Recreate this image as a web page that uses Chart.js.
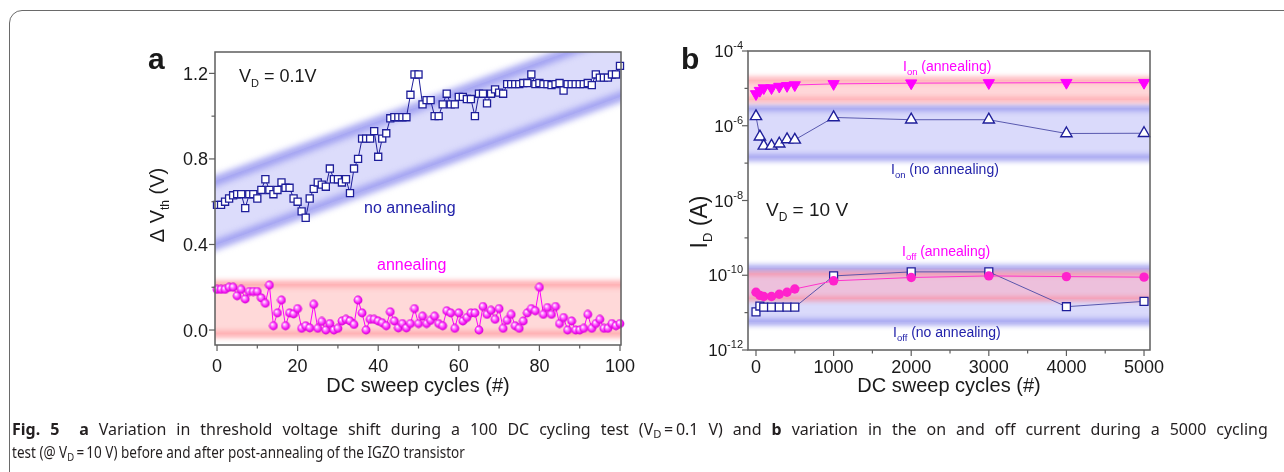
<!DOCTYPE html>
<html><head><meta charset="utf-8">
<script src="https://cdn.jsdelivr.net/npm/chart.js@4.4.0/dist/chart.umd.min.js"></script>
<style>
html,body{margin:0;padding:0;background:#fff;}
body{width:1284px;height:472px;position:relative;overflow:hidden;}
canvas{position:absolute;left:0;top:0;}
#frame{position:absolute;left:9px;top:10px;width:1320px;height:500px;border:1.5px solid #6a6a6a;border-radius:13px;box-sizing:border-box;}
.cap{position:absolute;left:12px;font-family:'Noto Sans','Liberation Sans',sans-serif;font-size:16px;color:#231f20;white-space:nowrap;transform-origin:0 0;line-height:18px;}
.cap sub{font-size:0.7em;vertical-align:-0.3em;line-height:0;}
</style></head>
<body>
<div id="frame"></div>
<canvas id="ca" width="1284" height="472"></canvas>
<canvas id="cb" width="1284" height="472"></canvas>
<div class="cap" id="cap1" style="top:420px"><b>Fig. 5</b>&nbsp; <b>a</b> Variation in threshold voltage shift during a 100 DC cycling test (V<sub>D</sub>&thinsp;=&thinsp;0.1 V) and <b>b</b> variation in the on and off current during a 5000 cycling</div>
<div class="cap" id="cap2" style="top:443px">test (@ V<sub>D</sub>&thinsp;=&thinsp;10 V) before and after post-annealing of the IGZO transistor</div>
<script>
// ---------- Panel a data ----------
const cyclesA = [0,1,2,3,4,5,6,7,8,9,10,11,12,13,14,15,16,17,18,19,20,21,22,23,24,25,26,27,28,29,30,31,32,33,34,35,36,37,38,39,40,41,42,43,44,45,46,47,48,49,50,51,52,53,54,55,56,57,58,59,60,61,62,63,64,65,66,67,68,69,70,71,72,73,74,75,76,77,78,79,80,81,82,83,84,85,86,87,88,89,90,91,92,93,94,95,96,97,98,99,100];
const dvthNoAnneal = [0.585,0.585,0.60,0.615,0.63,0.635,0.635,0.57,0.635,0.635,0.615,0.655,0.705,0.655,0.635,0.655,0.69,0.665,0.665,0.615,0.60,0.555,0.525,0.615,0.66,0.69,0.68,0.67,0.755,0.705,0.705,0.69,0.705,0.64,0.755,0.80,0.895,0.895,0.895,0.93,0.81,0.895,0.92,0.99,0.995,0.995,0.995,0.995,1.10,1.195,1.195,1.055,1.075,1.075,1.0,1.0,1.055,1.105,1.055,1.055,1.09,1.09,1.08,1.08,1.0,1.105,1.105,1.06,1.105,1.125,1.11,1.105,1.15,1.15,1.15,1.15,1.155,1.155,1.195,1.15,1.155,1.15,1.15,1.145,1.15,1.155,1.12,1.15,1.15,1.15,1.15,1.15,1.155,1.145,1.195,1.18,1.18,1.18,1.195,1.195,1.235];
const dvthAnneal = [0.19,0.19,0.19,0.20,0.20,0.16,0.19,0.145,0.18,0.18,0.18,0.15,0.125,0.21,0.02,0.08,0.14,0.02,0.08,0.075,0.10,0.008,0.02,0.01,0.12,0.008,0.04,0.0,0.03,0.0,0.008,0.042,0.05,0.042,0.026,0.14,0.08,0.0,0.05,0.05,0.042,0.034,0.02,0.085,0.042,0.01,0.03,0.01,0.03,0.10,0.03,0.065,0.03,0.045,0.065,0.03,0.02,0.09,0.08,0.008,0.08,0.042,0.058,0.08,0.08,0.0,0.11,0.073,0.092,0.05,0.10,0.008,0.045,0.073,0.02,0.008,0.042,0.08,0.10,0.09,0.20,0.073,0.105,0.073,0.11,0.03,0.058,0.0,0.042,0.0,0.0,0.008,0.073,0.008,0.03,0.05,0.008,0.008,0.03,0.02,0.03];
const bandBlueAX = [0, 100];
const bandBlueAUpper = [0.70, 1.39];
const bandBlueALower = [0.40, 1.09];
const bandPinkA = [0.215, -0.02];
const yTicksA = [0, 0.4, 0.8, 1.2];
const yTickLabelsA = ['0.0', '0.4', '0.8', '1.2'];
const yMinorA = [0.2, 0.6, 1.0];
const xTicksA = [0, 20, 40, 60, 80, 100];
const xMinorA = [10, 30, 50, 70, 90];

// ---------- Panel b data ----------
const cyclesB = [0, 50, 100, 200, 300, 400, 500, 1000, 2000, 3000, 4000, 5000];
const ionAnneal = [7.1e-6, 8.7e-6, 1.02e-5, 1.02e-5, 1.12e-5, 1.17e-5, 1.23e-5, 1.32e-5, 1.38e-5, 1.40e-5, 1.42e-5, 1.42e-5];
const ionNoAnneal = [1.78e-6, 5.1e-7, 2.9e-7, 2.9e-7, 3.3e-7, 4.3e-7, 4.2e-7, 1.67e-6, 1.45e-6, 1.45e-6, 6.2e-7, 6.3e-7];
const ioffAnneal = [3.5e-11, 2.9e-11, 2.7e-11, 2.7e-11, 3.1e-11, 3.5e-11, 4.3e-11, 7.1e-11, 8.7e-11, 9.6e-11, 9.2e-11, 8.9e-11];
const ioffNoAnneal = [1.05e-11, 1.5e-11, 1.4e-11, 1.4e-11, 1.4e-11, 1.4e-11, 1.4e-11, 9.6e-11, 1.23e-10, 1.23e-10, 1.44e-11, 2.0e-11];
const bandIonAnneal = [1.7e-5, 4.9e-6];
const bandIonNo = [3.0e-6, 1.4e-7];
const bandIoffNo = [1.55e-10, 5.6e-12];
const bandIoffAnneal = [1.13e-10, 2.3e-11];
const yTicksB = [1e-12, 1e-10, 1e-8, 1e-6, 1e-4];
const yTickExpB = ['-12', '-10', '-8', '-6', '-4'];
const yMinorB = [1e-11, 1e-9, 1e-7, 1e-5];
const xTicksB = [0, 1000, 2000, 3000, 4000, 5000];
const xMinorB = [500, 1500, 2500, 3500, 4500];

const NAVY = '#1e1e9a';
const MAG = '#ff00ff';
const FONT = "'Liberation Sans', Arial, sans-serif";

// ball marker
const ball = document.createElement('canvas');
ball.width = 10; ball.height = 10;
(function(){
  const g = ball.getContext('2d');
  const gr = g.createRadialGradient(3.6, 3.4, 0.3, 5, 5, 4.6);
  gr.addColorStop(0, '#ffffff');
  gr.addColorStop(0.3, '#ff8cff');
  gr.addColorStop(0.7, '#f414f4');
  gr.addColorStop(1, '#c800c8');
  g.fillStyle = gr; g.beginPath(); g.arc(5, 5, 4.4, 0, Math.PI * 2); g.fill();
})();

function rich(ctx, parts, x, y, align) {
  let w = 0;
  parts.forEach(p => { ctx.font = (p.b ? 'bold ' : '') + p.s + 'px ' + FONT; p.w = ctx.measureText(p.t).width; w += p.w; });
  let cx = align === 'center' ? x - w / 2 : (align === 'right' ? x - w : x);
  ctx.textAlign = 'left'; ctx.textBaseline = 'alphabetic';
  parts.forEach(p => { ctx.font = (p.b ? 'bold ' : '') + p.s + 'px ' + FONT; ctx.fillText(p.t, cx, y + (p.dy || 0)); cx += p.w; });
}
function line(ctx, x1, y1, x2, y2) { ctx.beginPath(); ctx.moveTo(x1, y1); ctx.lineTo(x2, y2); ctx.stroke(); }
function clipArea(ctx, ca) { ctx.beginPath(); ctx.rect(ca.left, ca.top, ca.right - ca.left, ca.bottom - ca.top); ctx.clip(); }
function hBand(ctx, ca, y1, y2, fill, edge, ew, blur) {
  ctx.fillStyle = fill; ctx.fillRect(ca.left, y1, ca.right - ca.left, y2 - y1);
  ctx.filter = 'blur(' + blur + 'px)'; ctx.strokeStyle = edge; ctx.lineWidth = ew;
  line(ctx, ca.left - 20, y1, ca.right + 20, y1); line(ctx, ca.left - 20, y2, ca.right + 20, y2);
  ctx.filter = 'none';
}

const bandsA = { id: 'bandsA', beforeDatasetsDraw(chart) {
  const { ctx, chartArea: ca, scales: { x, y } } = chart;
  ctx.save(); clipArea(ctx, ca);
  hBand(ctx, ca, y.getPixelForValue(bandPinkA[0]), y.getPixelForValue(bandPinkA[1]), '#ffd9d9', 'rgba(255,165,170,0.9)', 7, 2.5);
  const x0 = x.getPixelForValue(bandBlueAX[0]), x1 = x.getPixelForValue(bandBlueAX[1]);
  const u0 = y.getPixelForValue(bandBlueAUpper[0]), u1 = y.getPixelForValue(bandBlueAUpper[1]);
  const l0 = y.getPixelForValue(bandBlueALower[0]), l1 = y.getPixelForValue(bandBlueALower[1]);
  const ext = (a, b, t) => a + (b - a) * t;
  const tL = (ca.left - 30 - x0) / (x1 - x0), tR = (ca.right + 30 - x0) / (x1 - x0);
  ctx.fillStyle = '#dcdcfb';
  ctx.beginPath();
  ctx.moveTo(ca.left - 30, ext(u0, u1, tL)); ctx.lineTo(ca.right + 30, ext(u0, u1, tR));
  ctx.lineTo(ca.right + 30, ext(l0, l1, tR)); ctx.lineTo(ca.left - 30, ext(l0, l1, tL)); ctx.closePath(); ctx.fill();
  ctx.filter = 'blur(3px)'; ctx.strokeStyle = 'rgba(150,150,240,0.85)'; ctx.lineWidth = 10;
  line(ctx, ca.left - 30, ext(u0, u1, tL), ca.right + 30, ext(u0, u1, tR));
  line(ctx, ca.left - 30, ext(l0, l1, tL), ca.right + 30, ext(l0, l1, tR));
  ctx.filter = 'none';
  ctx.restore();
}};

const decoA = { id: 'decoA', afterDraw(chart) {
  const { ctx, chartArea: ca, scales: { x, y } } = chart;
  ctx.save();
  ctx.strokeStyle = '#5e5e5e'; ctx.lineWidth = 1.5;
  ctx.strokeRect(ca.left, ca.top, ca.right - ca.left, ca.bottom - ca.top);
  ctx.lineWidth = 1.2;
  xTicksA.forEach(v => { const p = x.getPixelForValue(v); line(ctx, p, ca.bottom, p, ca.bottom + 6); });
  xMinorA.forEach(v => { const p = x.getPixelForValue(v); line(ctx, p, ca.bottom, p, ca.bottom + 3.5); });
  yTicksA.forEach(v => { const p = y.getPixelForValue(v); line(ctx, ca.left - 6, p, ca.left, p); });
  yMinorA.forEach(v => { const p = y.getPixelForValue(v); line(ctx, ca.left - 3.5, p, ca.left, p); });
  ctx.fillStyle = '#1a1a1a';
  ctx.font = '18px ' + FONT; ctx.textBaseline = 'alphabetic';
  ctx.textAlign = 'center';
  xTicksA.forEach(v => ctx.fillText(String(v), x.getPixelForValue(v), ca.bottom + 27));
  ctx.textAlign = 'right';
  yTicksA.forEach((v, i) => ctx.fillText(yTickLabelsA[i], ca.left - 7, y.getPixelForValue(v) + 6.5));
  ctx.font = '20px ' + FONT; ctx.textAlign = 'center';
  ctx.fillText('DC sweep cycles (#)', (ca.left + ca.right) / 2, 392);
  ctx.save(); ctx.translate(164, 205); ctx.rotate(-Math.PI / 2);
  rich(ctx, [{ t: '\u0394 V', s: 20 }, { t: 'th', s: 12, dy: 5 }, { t: ' (V)', s: 20 }], 0, 0, 'center');
  ctx.restore();
  rich(ctx, [{ t: 'a', s: 30, b: true }], 148, 69, 'left');
  rich(ctx, [{ t: 'V', s: 18 }, { t: 'D', s: 11, dy: 5 }, { t: ' = 0.1V', s: 18 }], 239, 82, 'left');
  ctx.fillStyle = '#2222aa';
  rich(ctx, [{ t: 'no annealing', s: 16 }], 364, 213, 'left');
  ctx.fillStyle = MAG;
  rich(ctx, [{ t: 'annealing', s: 16 }], 377, 270, 'left');
  ctx.restore();
}};

const bandsB = { id: 'bandsB', beforeDatasetsDraw(chart) {
  const { ctx, chartArea: ca, scales: { y } } = chart;
  ctx.save(); clipArea(ctx, ca);
  const P = v => y.getPixelForValue(v);
  hBand(ctx, ca, P(bandIonNo[0]), P(bandIonNo[1]), '#dadafb', 'rgba(160,160,240,0.9)', 7, 2.5);
  hBand(ctx, ca, P(bandIonAnneal[0]), P(bandIonAnneal[1]), '#ffd7d9', 'rgba(255,170,175,0.9)', 6, 2.5);
  hBand(ctx, ca, P(bandIoffNo[0]), P(bandIoffNo[1]), '#dadafb', 'rgba(160,160,240,0.9)', 7, 2.5);
  hBand(ctx, ca, P(bandIoffAnneal[0]), P(bandIoffAnneal[1]), 'rgba(255,165,190,0.5)', 'rgba(250,140,160,0.75)', 5, 2);
  ctx.restore();
}};

const decoB = { id: 'decoB', afterDraw(chart) {
  const { ctx, chartArea: ca, scales: { x, y } } = chart;
  ctx.save();
  ctx.strokeStyle = '#5e5e5e'; ctx.lineWidth = 1.5;
  ctx.strokeRect(ca.left, ca.top, ca.right - ca.left, ca.bottom - ca.top);
  ctx.lineWidth = 1.2;
  xTicksB.forEach(v => { const p = x.getPixelForValue(v); line(ctx, p, ca.bottom, p, ca.bottom + 6); });
  xMinorB.forEach(v => { const p = x.getPixelForValue(v); line(ctx, p, ca.bottom, p, ca.bottom + 3.5); });
  yTicksB.forEach(v => { const p = y.getPixelForValue(v); line(ctx, ca.left - 6, p, ca.left, p); });
  yMinorB.forEach(v => { const p = y.getPixelForValue(v); line(ctx, ca.left - 3.5, p, ca.left, p); });
  ctx.fillStyle = '#1a1a1a';
  ctx.font = '18px ' + FONT; ctx.textBaseline = 'alphabetic'; ctx.textAlign = 'center';
  xTicksB.forEach(v => ctx.fillText(String(v), x.getPixelForValue(v), ca.bottom + 23));
  yTicksB.forEach((v, i) => {
    const p = y.getPixelForValue(v);
    ctx.font = '11px ' + FONT; const we = ctx.measureText(yTickExpB[i]).width;
    ctx.textAlign = 'left'; ctx.fillText(yTickExpB[i], ca.left - 5 - we, p - 2);
    ctx.font = '17px ' + FONT; ctx.textAlign = 'right'; ctx.fillText('10', ca.left - 5 - we, p + 6);
  });
  ctx.font = '20px ' + FONT; ctx.textAlign = 'center';
  ctx.fillText('DC sweep cycles (#)', (ca.left + ca.right) / 2, 392);
  ctx.save(); ctx.translate(707, 222); ctx.rotate(-Math.PI / 2);
  rich(ctx, [{ t: 'I', s: 23 }, { t: 'D', s: 13, dy: 5 }, { t: ' (A)', s: 23 }], 0, 0, 'center');
  ctx.restore();
  rich(ctx, [{ t: 'b', s: 30, b: true }], 681, 69, 'left');
  rich(ctx, [{ t: 'V', s: 19 }, { t: 'D', s: 12, dy: 5 }, { t: ' = 10 V', s: 19 }], 766, 216, 'left');
  ctx.fillStyle = MAG;
  rich(ctx, [{ t: 'I', s: 14 }, { t: 'on', s: 9.5, dy: 4 }, { t: ' (annealing)', s: 14 }], 903, 71, 'left');
  rich(ctx, [{ t: 'I', s: 14 }, { t: 'off', s: 9.5, dy: 4 }, { t: ' (annealing)', s: 14 }], 902, 256, 'left');
  ctx.fillStyle = '#2222aa';
  rich(ctx, [{ t: 'I', s: 14 }, { t: 'on', s: 9.5, dy: 4 }, { t: ' (no annealing)', s: 14 }], 891, 174, 'left');
  rich(ctx, [{ t: 'I', s: 14 }, { t: 'off', s: 9.5, dy: 4 }, { t: ' (no annealing)', s: 14 }], 893, 337, 'left');
  ctx.restore();
}};

const commonOpts = (pad) => ({
  responsive: false, animation: false, devicePixelRatio: 1, events: [],
  layout: { padding: pad },
  plugins: { legend: { display: false }, tooltip: { enabled: false } }
});

const optsA = commonOpts({ left: 215, top: 52, right: 1284 - 621, bottom: 472 - 345 });
optsA.scales = { x: { type: 'linear', display: false, min: -0.5, max: 100.25 }, y: { type: 'linear', display: false, min: -0.07, max: 1.30 } };
new Chart(document.getElementById('ca'), {
  type: 'scatter',
  data: { datasets: [
    { data: cyclesA.map((c, i) => ({ x: c, y: dvthAnneal[i] })), showLine: true, borderColor: MAG, borderWidth: 1, pointStyle: ball, pointRadius: 4.5, clip: false },
    { data: cyclesA.map((c, i) => ({ x: c, y: dvthNoAnneal[i] })), showLine: true, borderColor: NAVY, borderWidth: 1, pointStyle: 'rect', pointRadius: 5, pointBackgroundColor: '#ffffff', pointBorderColor: NAVY, pointBorderWidth: 1.3, clip: false }
  ]},
  options: optsA,
  plugins: [bandsA, decoA]
});

const optsB = commonOpts({ left: 748, top: 51, right: 1284 - 1150, bottom: 472 - 350 });
optsB.scales = { x: { type: 'linear', display: false, min: -103, max: 5077 }, y: { type: 'logarithmic', display: false, min: 1e-12, max: 1e-4 } };
new Chart(document.getElementById('cb'), {
  type: 'scatter',
  data: { datasets: [
    { data: cyclesB.map((c, i) => ({ x: c, y: ionAnneal[i] })), showLine: true, borderColor: '#ff33dd', borderWidth: 1, pointStyle: 'triangle', pointRotation: 180, pointRadius: 6.5, pointBackgroundColor: MAG, pointBorderColor: MAG, pointBorderWidth: 1, clip: false },
    { data: cyclesB.map((c, i) => ({ x: c, y: ionNoAnneal[i] })), showLine: true, borderColor: '#4a4aa6', borderWidth: 0.9, pointStyle: 'triangle', pointRadius: 6.5, pointBackgroundColor: '#ffffff', pointBorderColor: NAVY, pointBorderWidth: 1.4, clip: false },
    { data: cyclesB.map((c, i) => ({ x: c, y: ioffAnneal[i] })), showLine: true, borderColor: '#ff33cc', borderWidth: 1, pointStyle: 'circle', pointRadius: 4.7, pointBackgroundColor: '#ff22cc', pointBorderColor: '#ff22cc', pointBorderWidth: 0, clip: false },
    { data: cyclesB.map((c, i) => ({ x: c, y: ioffNoAnneal[i] })), showLine: true, borderColor: '#4a4aa6', borderWidth: 0.9, pointStyle: 'rect', pointRadius: 5.6, pointBackgroundColor: '#ffffff', pointBorderColor: NAVY, pointBorderWidth: 1.3, clip: false }
  ]},
  options: optsB,
  plugins: [bandsB, decoB]
});

// caption: condensed glyphs, first line mildly justified to the full width
(function () {
  const c1 = document.getElementById('cap1'), c2 = document.getElementById('cap2');
  const s2 = 453 / c2.offsetWidth;
  c2.style.transform = 'scaleX(' + s2 + ')';
  c1.style.wordSpacing = '0px';
  const w0 = c1.offsetWidth;
  const g1 = (1256 / w0 + s2) / 2;
  c1.style.wordSpacing = '10px';
  const slope = (c1.offsetWidth - w0) / 10;
  const ws = slope > 0 ? Math.max(0, (1256 / g1 - w0) / slope) : 0;
  c1.style.wordSpacing = ws + 'px';
  c1.style.transform = 'scaleX(' + (1256 / c1.offsetWidth) + ')';
})();
</script>
</body></html>
